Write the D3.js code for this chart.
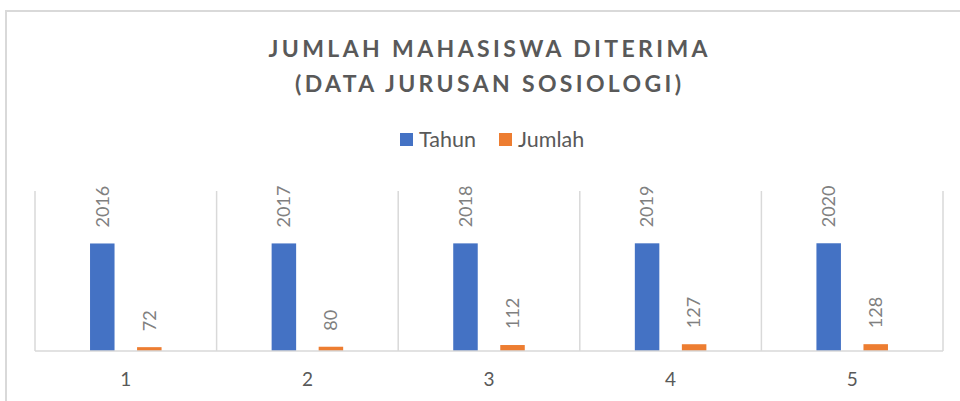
<!DOCTYPE html>
<html>
<head>
<meta charset="utf-8">
<script src="https://cdn.jsdelivr.net/npm/d3@7"></script>
<style>
  body { margin: 0; background: #fff; }
  svg { display: block; font-family: Lato, "Open Sans", sans-serif; }
</style>
</head>
<body>
<div class="chart"></div>
<script>
var categories = ["1", "2", "3", "4", "5"];
var tahun = [2016, 2017, 2018, 2019, 2020];
var jumlah = [72, 80, 112, 127, 128];
var seriesNames = ["Tahun", "Jumlah"];
var seriesColors = ["#4472C4", "#ED7D31"];
var titleLines = ["JUMLAH MAHASISWA DITERIMA", "(DATA JURUSAN SOSIOLOGI)"];

var w = 960;
var h = 401;
var plot = {left: 35, right: 943, top: 191, bottom: 351};

var svg = d3.select(".chart")
  .append("svg")
  .attr("width", w)
  .attr("height", h);

// chart area border
svg.append("rect")
  .attr("x", 6)
  .attr("y", 11)
  .attr("width", w + 20)
  .attr("height", h + 20)
  .attr("fill", "#fff")
  .attr("stroke", "#d9d9d9")
  .attr("stroke-width", 2);

//Title

var titleWidths = [439, 386];
svg.selectAll(".title")
  .data(titleLines)
  .enter()
  .append("text")
  .attr("class", "title")
  .attr("x", 488)
  .attr("y", function(d, i) { return 57 + i * 35; })
  .attr("text-anchor", "middle")
  .attr("textLength", function(d, i) { return titleWidths[i]; })
  .attr("lengthAdjust", "spacing")
  .attr("fill", "#595959")
  .style("font-size", "23px")
  .style("font-weight", "bold")
  .text(function(d) { return d; });

//Legend

var legendX = [400, 499];
var legend = svg.selectAll(".legend")
  .data(seriesNames)
  .enter()
  .append("g")
  .attr("class", "legend")
  .attr("transform", function(d, i) { return "translate(" + legendX[i] + ",133)"; });

legend.append("rect")
  .attr("width", 13)
  .attr("height", 13)
  .attr("fill", function(d, i) { return seriesColors[i]; });

legend.append("text")
  .attr("x", 19)
  .attr("y", 14)
  .attr("fill", "#595959")
  .style("font-size", "21.5px")
  .text(function(d) { return d; });

//Scales

var xScale = d3.scaleBand()
  .domain(categories)
  .range([plot.left, plot.right])
  .padding(0);

var x1 = d3.scaleBand()
  .domain(seriesNames)
  .range([0, xScale.bandwidth()])
  .paddingInner(0.479)
  .paddingOuter(1.17);

var yScale = d3.scaleLinear()
  .domain([0, 3000])
  .range([plot.bottom, plot.top]);

// category separators
var seps = categories.map(function(d) { return xScale(d); }).concat([plot.right]);
svg.selectAll(".sep")
  .data(seps)
  .enter()
  .append("line")
  .attr("x1", function(d) { return d; })
  .attr("x2", function(d) { return d; })
  .attr("y1", plot.top)
  .attr("y2", plot.bottom)
  .attr("stroke", "#d9d9d9")
  .attr("stroke-width", 1.5);

var rows = categories.map(function(c, i) {
  return {cat: c, values: [tahun[i], jumlah[i]]};
});

var groups = svg.selectAll(".group")
  .data(rows)
  .enter()
  .append("g")
  .attr("class", "group")
  .attr("transform", function(d) { return "translate(" + xScale(d.cat) + ",0)"; });

groups.selectAll("rect")
  .data(function(d) {
    return d.values.map(function(v, j) { return {name: seriesNames[j], value: v, color: seriesColors[j]}; });
  })
  .enter()
  .append("rect")
  .attr("x", function(d) { return x1(d.name); })
  .attr("width", x1.bandwidth())
  .attr("y", function(d) { return yScale(d.value); })
  .attr("height", function(d) { return plot.bottom - yScale(d.value); })
  .attr("fill", function(d) { return d.color; });

// data labels, rotated
groups.selectAll(".lbl")
  .data(function(d) {
    return d.values.map(function(v, j) { return {name: seriesNames[j], value: v}; });
  })
  .enter()
  .append("text")
  .attr("class", "lbl")
  .attr("transform", function(d) {
    var cx = x1(d.name) + x1.bandwidth() / 2;
    return "translate(" + cx + "," + (yScale(d.value) - 16) + ") rotate(-90)";
  })
  .attr("dy", "0.35em")
  .attr("fill", "#808080")
  .style("font-size", "18px")
  .text(function(d) { return d.value; });

// baseline
svg.append("line")
  .attr("x1", plot.left)
  .attr("x2", plot.right)
  .attr("y1", plot.bottom)
  .attr("y2", plot.bottom)
  .attr("stroke", "#d9d9d9")
  .attr("stroke-width", 1.5);

//Axis labels

var xAxis = svg.append("g")
  .attr("transform", "translate(0," + plot.bottom + ")")
  .call(d3.axisBottom(xScale).tickSize(0).tickPadding(22));

xAxis.select(".domain").remove();
xAxis.selectAll("text")
  .attr("fill", "#595959")
  .style("font-family", "Lato, 'Open Sans', sans-serif")
  .style("font-size", "19px");
</script>
</body>
</html>
